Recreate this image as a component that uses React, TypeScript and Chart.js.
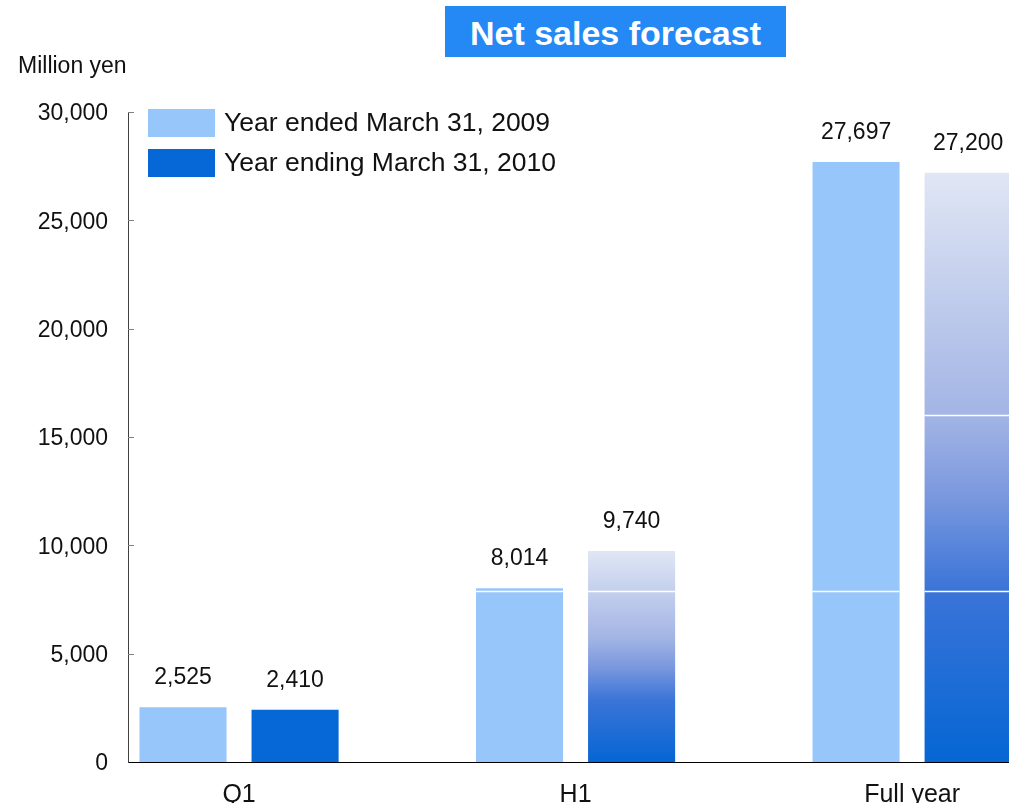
import React, { useEffect, useRef } from 'react';
import { Chart, registerables } from 'chart.js';

Chart.register(...registerables);

// ---- data ----
const categories = ['Q1', 'H1', 'Full year'];
const seriesNames = ['Year ended March 31, 2009', 'Year ending March 31, 2010'];
const values2009 = [2525, 8014, 27697];
const values2010 = [2410, 9740, 27200];
const dividers2009 = [[], [7900], [7900]];
const dividers2010 = [[], [7900], [7900, 16000]];
const yTickValues = [0, 5000, 10000, 15000, 20000, 25000, 30000];

// ---- styles ----
const FONT = '"Liberation Sans", Arial, Helvetica, sans-serif';
const COLOR_2009 = '#96C6FA';
const COLOR_2010 = '#0668D6';
const GRADIENT_2010 = [false, true, true];
const GRADIENT_STOPS: [number, string][] = [
  [0, '#0566D4'],
  [0.29, '#3A74D8'],
  [0.45, '#7A98DE'],
  [0.59, '#A3B5E5'],
  [1, '#E0E6F4'],
];

const fmt = (v: number) => v.toLocaleString('en-US');

export default function App() {
  const canvasRef = useRef<HTMLCanvasElement | null>(null);

  useEffect(() => {
    const canvas = canvasRef.current;
    if (!canvas) return;

    const overlay = {
      id: 'overlay',
      afterDatasetsDraw(chart: any) {
        const ctx = chart.ctx;
        const y = chart.scales.y;
        const dividers = [dividers2009, dividers2010];
        const values = [values2009, values2010];
        chart.data.datasets.forEach((_: any, di: number) => {
          const meta = chart.getDatasetMeta(di);
          meta.data.forEach((bar: any, i: number) => {
            // white divider lines
            ctx.save();
            ctx.strokeStyle = '#FFFFFF';
            ctx.lineWidth = 1.5;
            dividers[di][i].forEach((v: number) => {
              const py = Math.round(y.getPixelForValue(v)) + 0.5;
              ctx.beginPath();
              ctx.moveTo(bar.x - bar.width / 2, py);
              ctx.lineTo(bar.x + bar.width / 2, py);
              ctx.stroke();
            });
            ctx.restore();
            // value label
            ctx.save();
            ctx.fillStyle = '#111111';
            ctx.font = `23px ${FONT}`;
            ctx.textAlign = 'center';
            ctx.textBaseline = 'alphabetic';
            ctx.fillText(fmt(values[di][i]), bar.x, bar.y - 23);
            ctx.restore();
          });
        });
      },
      afterDraw(chart: any) {
        const ctx = chart.ctx;
        const y = chart.scales.y;
        const area = chart.chartArea;
        // inner tick marks on y axis
        ctx.save();
        ctx.strokeStyle = '#808080';
        ctx.lineWidth = 1;
        y.ticks.forEach((t: any) => {
          if (t.value === 0) return;
          const py = Math.round(y.getPixelForValue(t.value)) + 0.5;
          ctx.beginPath();
          ctx.moveTo(area.left, py);
          ctx.lineTo(area.left + 6, py);
          ctx.stroke();
        });
        ctx.restore();
        // legend
        const colors = [COLOR_2009, COLOR_2010];
        ctx.save();
        seriesNames.forEach((name, i) => {
          const bx = area.left + 20;
          const by = area.top - 3 + i * 40;
          ctx.fillStyle = colors[i];
          ctx.fillRect(bx, by, 67, 28);
          ctx.fillStyle = '#111111';
          ctx.font = `26.5px ${FONT}`;
          ctx.textAlign = 'left';
          ctx.textBaseline = 'middle';
          ctx.fillText(name, bx + 76, by + 15);
        });
        ctx.restore();
      },
    };

    const gradientFill = (c: any) => {
      const i = c.dataIndex;
      if (!GRADIENT_2010[i]) return COLOR_2010;
      const chart = c.chart;
      const y = chart.scales?.y;
      if (!chart.chartArea || !y) return COLOR_2010;
      const bottom = y.getPixelForValue(0);
      const top = y.getPixelForValue(values2010[i]);
      const g = chart.ctx.createLinearGradient(0, bottom, 0, top);
      GRADIENT_STOPS.forEach(([s, col]) => g.addColorStop(s, col));
      return g;
    };

    const chart = new Chart(canvas, {
      type: 'bar',
      data: {
        datasets: [
          {
            label: seriesNames[0],
            data: values2009.map((v, i) => ({ x: i, y: v })),
            backgroundColor: COLOR_2009,
            borderWidth: 0,
          },
          {
            label: seriesNames[1],
            data: values2010.map((v, i) => ({ x: i, y: v })),
            backgroundColor: gradientFill,
            borderWidth: 0,
          },
        ],
      },
      options: {
        animation: false,
        responsive: true,
        maintainAspectRatio: false,
        events: [],
        layout: { padding: { top: 112, right: 0, bottom: 0, left: 0 } },
        datasets: { bar: { categoryPercentage: 0.666, barPercentage: 0.777 } },
        plugins: {
          legend: { display: false },
          tooltip: { enabled: false },
          title: { display: false },
        },
        scales: {
          x: {
            type: 'linear',
            min: -0.33,
            max: 2.288,
            offset: false,
            grid: { display: false, drawTicks: false, offset: false },
            border: { display: true, color: '#000000', width: 1 },
            afterBuildTicks: (scale: any) => {
              scale.ticks = categories.map((_, i) => ({ value: i }));
            },
            afterFit: (scale: any) => {
              scale.height = 41;
            },
            ticks: {
              autoSkip: false,
              maxRotation: 0,
              padding: 18,
              color: '#111111',
              font: { family: FONT, size: 25 },
              callback: (v: any) => categories[Math.round(Number(v))] ?? '',
            },
          },
          y: {
            type: 'linear',
            min: 0,
            max: 30000,
            grid: { display: false, drawTicks: false },
            border: { display: true, color: '#404040', width: 1 },
            afterBuildTicks: (scale: any) => {
              scale.ticks = yTickValues.map((v) => ({ value: v }));
            },
            afterFit: (scale: any) => {
              scale.width = 128;
            },
            ticks: {
              padding: 20,
              labelOffset: 2,
              color: '#111111',
              font: { family: FONT, size: 23 },
              callback: (v: any) => fmt(Number(v)),
            },
          },
        },
      },
      plugins: [overlay],
    } as any);

    return () => chart.destroy();
  }, []);

  return (
    <div style={{ position: 'fixed', left: 0, top: 0, width: 1009, height: 803, background: '#FFFFFF', overflow: 'hidden' }}>
      <canvas ref={canvasRef} style={{ position: 'absolute', left: 0, top: 0 }} />
      <div
        style={{
          position: 'absolute',
          left: 445,
          top: 6,
          width: 341,
          height: 51,
          background: '#2489F5',
          color: '#FFFFFF',
          fontFamily: FONT,
          fontWeight: 'bold',
          fontSize: 34,
          lineHeight: '54px',
          textAlign: 'center',
          whiteSpace: 'nowrap',
        }}
      >
        Net sales forecast
      </div>
      <div
        style={{
          position: 'absolute',
          left: 18,
          top: 54,
          fontFamily: FONT,
          fontSize: 23,
          lineHeight: '23px',
          color: '#111111',
          whiteSpace: 'nowrap',
        }}
      >
        Million yen
      </div>
    </div>
  );
}
